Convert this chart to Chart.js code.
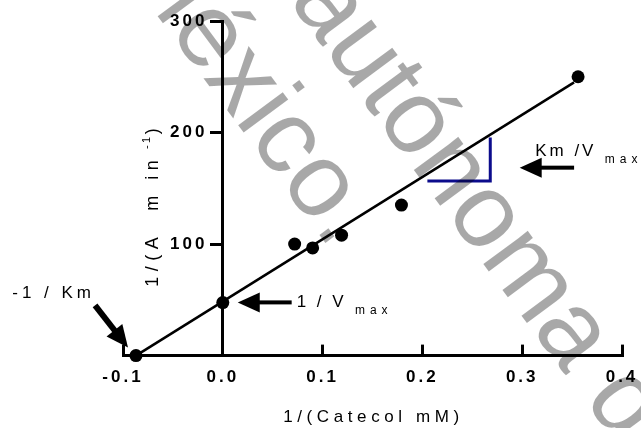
<!DOCTYPE html>
<html>
<head>
<meta charset="utf-8">
<script src="https://cdn.jsdelivr.net/npm/chart.js@4.4.1/dist/chart.umd.min.js"></script>
<style>
  html, body { margin: 0; padding: 0; background: #fff; }
</style>
</head>
<body>
<canvas id="lb" width="641" height="428"></canvas>
<script>
// Lineweaver-Burk plot, 1/v against 1/[catechol]
const substrateInv = [-0.087, 0.0, 0.072, 0.090, 0.119, 0.179, 0.356];
const rateInv = [0, 47.5, 100, 96.5, 108, 135, 250];

// regression line
const fitX = [-0.087, 0.352];
const fitY = [0, 245];

// slope triangle (Km/Vmax)
const slopeX = [0.205, 0.268, 0.268];
const slopeY = [156.5, 156.5, 195.5];

const xTicks = [-0.1, 0.0, 0.1, 0.2, 0.3, 0.4];
const yTicks = [100, 200, 300];

// arrows in data units: tail x, tail y, tip x, tip y, shaft width (px)
const arrowTail = [[0.352, 168.5], [0.069, 47.7], [-0.128, 45]];
const arrowTip = [[0.2975, 168.5], [0.015, 47.7], [-0.095, 7.2]];
const arrowWidth = [4, 4, 6];

// annotation labels: anchor in data units, main text, subscript, spacing
const noteX = [0.313, 0.074, -0.211];
const noteY = [179, 43.5, 51.5];
const noteMain = ['Km /V', '1 / V', '-1 / Km'];
const noteSub = ['max', 'max', ''];
const noteSpacing = [3, 3, 4];

const FONT = '"Liberation Sans", Arial, sans-serif';

function pairs(xs, ys) {
    return xs.map((x, i) => ({ x: x, y: ys[i] }));
}

// draws a run of text pieces: [text, size, dy, letter spacing]
function drawParts(ctx, parts, x, y, align) {
    let total = 0;
    const widths = parts.map(p => {
        ctx.font = p[1] + 'px ' + FONT;
        ctx.letterSpacing = p[3] + 'px';
        const w = ctx.measureText(p[0]).width;
        total += w;
        return w;
    });
    let cx = align === 'center' ? x - total / 2 : x;
    parts.forEach((p, i) => {
        ctx.font = p[1] + 'px ' + FONT;
        ctx.letterSpacing = p[3] + 'px';
        ctx.fillText(p[0], cx, y + p[2]);
        cx += widths[i];
    });
}

function drawArrow(ctx, x1, y1, x2, y2, w) {
    const ang = Math.atan2(y2 - y1, x2 - x1);
    const len = Math.hypot(x2 - x1, y2 - y1);
    const head = 22, half = 10;
    ctx.save();
    ctx.translate(x2, y2);
    ctx.rotate(ang);
    ctx.fillRect(-len, -w / 2, len - head + 1, w);
    ctx.beginPath();
    ctx.moveTo(0, 0);
    ctx.lineTo(-head, -half);
    ctx.lineTo(-head, half);
    ctx.closePath();
    ctx.fill();
    ctx.restore();
}

const annotations = {
    id: 'annotations',
    beforeDraw(chart) {
        chart.ctx.letterSpacing = '3px';
    },
    afterDraw(chart) {
        const ctx = chart.ctx;
        const xs = chart.scales.x, ys = chart.scales.y;
        ctx.save();
        ctx.fillStyle = '#000';
        ctx.textAlign = 'left';
        ctx.textBaseline = 'alphabetic';

        arrowTail.forEach((t, i) => {
            drawArrow(ctx,
                xs.getPixelForValue(t[0]), ys.getPixelForValue(t[1]),
                xs.getPixelForValue(arrowTip[i][0]), ys.getPixelForValue(arrowTip[i][1]),
                arrowWidth[i]);
        });

        noteMain.forEach((txt, i) => {
            const parts = [[txt, 17, 0, noteSpacing[i]]];
            if (noteSub[i]) parts.push([' ' + noteSub[i], 12, 7, 5]);
            drawParts(ctx, parts, xs.getPixelForValue(noteX[i]), ys.getPixelForValue(noteY[i]), 'left');
        });

        // axis titles
        drawParts(ctx, [['1/(Catecol mM)', 17, 0, 4.6]], (xs.left + xs.right) / 2 + 1, 422, 'center');
        ctx.save();
        ctx.translate(158, 206);
        ctx.rotate(-Math.PI / 2);
        drawParts(ctx, [['1/(A  m in', 18, 0, 5.5], [' -1', 11, -8, 2.5], [')', 18, 0, 3]], 0, 0, 'center');
        ctx.restore();

        // background lettering across the plot
        ctx.fillStyle = 'rgba(0,0,0,0.34)';
        ctx.font = '105px ' + FONT;
        ctx.letterSpacing = '0px';
        const rot = 53.5 * Math.PI / 180;
        ctx.save();
        ctx.translate(288, 0);
        ctx.rotate(rot);
        ctx.fillText('autónoma de', 0, 0);
        ctx.restore();
        ctx.save();
        ctx.translate(116, -40);
        ctx.rotate(rot);
        ctx.fillText('México.', 0, 0);
        ctx.restore();

        ctx.restore();
    }
};

const tickFont = { family: FONT, size: 17, weight: 'bold' };

new Chart(document.getElementById('lb'), {
    type: 'scatter',
    data: {
        datasets: [
            {
                data: pairs(fitX, fitY),
                showLine: true,
                borderColor: '#000',
                borderWidth: 2.5,
                pointRadius: 0,
                clip: false
            },
            {
                data: pairs(slopeX, slopeY),
                showLine: true,
                borderColor: '#0c0c8c',
                borderWidth: 3,
                pointRadius: 0,
                clip: false
            },
            {
                data: pairs(substrateInv, rateInv),
                pointRadius: 6.5,
                pointBackgroundColor: '#000',
                pointBorderWidth: 0,
                clip: false
            }
        ]
    },
    options: {
        responsive: false,
        animation: false,
        layout: { padding: { left: 123, right: 19, top: 21, bottom: 17 } },
        plugins: { legend: { display: false }, tooltip: { enabled: false } },
        scales: {
            x: {
                type: 'linear',
                min: -0.1,
                max: 0.4,
                afterBuildTicks: s => { s.ticks = xTicks.map(v => ({ value: v })); },
                // the side padding is set by the layout padding alone
                afterFit: s => { s.paddingLeft = 0; s.paddingRight = 0; },
                ticks: {
                    callback: v => v.toFixed(1),
                    font: tickFont,
                    color: '#000',
                    padding: 23,
                    maxRotation: 0,
                    autoSkip: false
                },
                grid: { drawOnChartArea: false, tickLength: -11, tickWidth: 3, color: '#000' },
                border: { color: '#000', width: 3 }
            },
            y: {
                type: 'linear',
                min: 0,
                max: 300,
                position: { x: 0 },
                afterBuildTicks: s => { s.ticks = yTicks.map(v => ({ value: v })); },
                // labels sit right on the axis for a pinned axis, so pad them out
                ticks: { font: tickFont, color: '#000', callback: v => v + '  ' },
                grid: { drawOnChartArea: false, tickLength: 11, tickWidth: 3, color: '#000' },
                border: { color: '#000', width: 3 }
            }
        }
    },
    plugins: [annotations]
});
</script>
</body>
</html>
